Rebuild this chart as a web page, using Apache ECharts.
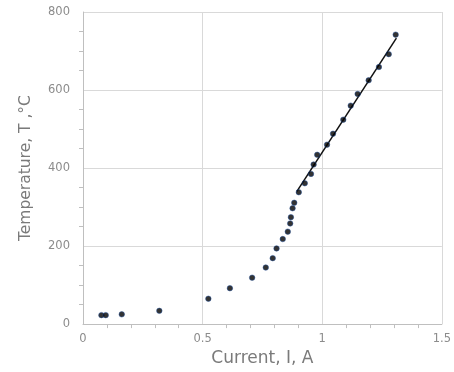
<!DOCTYPE html>
<html><head><meta charset="utf-8">
<script src="https://cdn.jsdelivr.net/npm/echarts@6/dist/echarts.min.js"></script>
<style>html,body{margin:0;padding:0;background:#fff}#c{width:454px;height:372px}</style>
</head><body><div id="c"></div>
<script>
const currentA = [0.077,0.095,0.162,0.319,0.524,0.614,0.707,0.764,0.793,0.809,0.835,0.856,0.866,0.869,0.876,0.883,0.902,0.927,0.953,0.964,0.979,1.020,1.045,1.088,1.119,1.148,1.194,1.237,1.278,1.307];
const temperatureC = [23,23,25,34,65,92,119,145,169,194,218,237,258,274,297,311,338,361,385,409,434,460,488,524,560,590,625,659,692,742];
const fitX = [0.894, 1.310];
const fitY = [340, 733];

const chart = echarts.init(document.getElementById('c'), null, {renderer:'canvas'});
const font = '"DejaVu Sans", sans-serif';
chart.setOption({
  animation:false,
  grid:{left:83,right:12,top:12,bottom:45,containLabel:false},
  xAxis:{type:'value',min:0,max:1.5,interval:0.5,
    name:'Current, I, A',nameLocation:'middle',nameGap:25,
    nameTextStyle:{color:'#7a7a7a',fontSize:17,fontFamily:font},
    axisLine:{show:true,lineStyle:{color:'#bfbfbf'}},
    axisTick:{show:false},
    minorTick:{show:true,splitNumber:5,length:4,lineStyle:{color:'#bfbfbf'}},
    axisLabel:{color:'#8c8c8c',fontSize:11.5,fontFamily:font,margin:9},
    splitLine:{show:true,lineStyle:{color:'#d9d9d9'}}
  },
  yAxis:{type:'value',min:0,max:800,interval:200,
    name:'Temperature, T ,°C',nameLocation:'middle',nameGap:49,
    nameTextStyle:{color:'#7a7a7a',fontSize:15.5,fontFamily:font},
    axisLine:{show:true,lineStyle:{color:'#bfbfbf'}},
    axisTick:{show:false},
    minorTick:{show:true,splitNumber:4,length:4,lineStyle:{color:'#bfbfbf'}},
    axisLabel:{color:'#8c8c8c',fontSize:11.5,fontFamily:font,margin:13},
    splitLine:{show:true,lineStyle:{color:'#d9d9d9'}}
  },
  series:[
    {type:'line',data:fitX.map((x,i)=>[x,fitY[i]]),symbol:'none',
      lineStyle:{color:'#111',width:1.5},z:2},
    {type:'scatter',data:currentA.map((x,i)=>[x,temperatureC[i]]),symbolSize:5.5,
      itemStyle:{color:'#000000',borderColor:'#1f4e99',borderWidth:0.6},z:3}
  ]
});
</script></body></html>
